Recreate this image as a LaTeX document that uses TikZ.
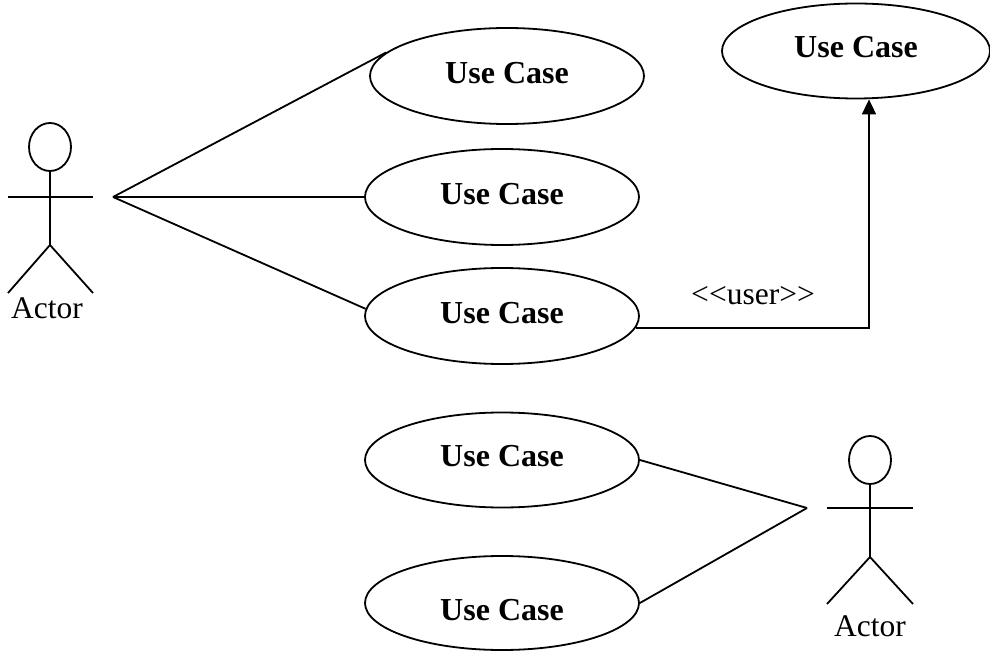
\documentclass[tikz,border=0pt]{standalone}
\usepackage{fontspec}
\setmainfont{Liberation Serif}
\usetikzlibrary{shapes.geometric,arrows.meta}

% Text im Oval, senkrecht verschoben (ohne Boxgroesse zu aendern)
\newcommand{\ucname}[1]{\raisebox{#1}[\height][\depth]{Use Case}}

\tikzset{
  usecase/.style={draw, ellipse, line width=1.8pt, inner sep=0pt,
    minimum width=274pt, minimum height=96pt,
    font=\fontsize{32}{38}\selectfont\bfseries},
  stick/.style={line width=1.8pt},
  assoc/.style={line width=1.8pt},
  actorlabel/.style={font=\fontsize{31.5}{38}\selectfont, inner sep=0pt}
}

\begin{document}
\begin{tikzpicture}[x=1pt,y=-1pt]
\useasboundingbox (0,0) rectangle (990,652);

%ACTOR LINKS
\draw [stick] (50,147) ellipse [x radius=21, y radius=24];
\draw [stick] (50,171) -- (50,245);
\draw [stick] (8,197) -- (93,197);
\draw [stick] (8,293) -- (50,245) -- (93,293);
\node [actorlabel] (actorA) at (47,308) {Actor};
\coordinate (hubA) at (113,197);

%ACTOR RECHTS
\draw [stick] (870,460) ellipse [x radius=21, y radius=24];
\draw [stick] (870,484) -- (870,557);
\draw [stick] (827,508) -- (913,508);
\draw [stick] (827,604) -- (870,557) -- (913,604);
\node [actorlabel] (actorB) at (870,626) {Actor};
\coordinate (hubB) at (807,508);

%USE CASES
\node [usecase] (uc1) at (507,76) {\ucname{3pt}};
\node [usecase] (uc2) at (502,197) {\ucname{2.5pt}};
\node [usecase] (uc3) at (502,316) {\ucname{3pt}};
\node [usecase, minimum width=268pt, minimum height=95pt] (uc4) at (856,51) {\ucname{4pt}};
\node [usecase, minimum height=95pt] (uc5) at (502,460) {\ucname{4pt}};
\node [usecase, minimum height=94pt] (uc6) at (502,603) {\ucname{-7pt}};

%VERBINDUNGEN
\draw [assoc] (hubA) -- (uc1.169);
\draw [assoc] (hubA) -- (uc2.west);
\draw [assoc] (hubA) -- (uc3.177);
\draw [assoc] (uc5.east) -- (hubB);
\draw [assoc] (uc6.east) -- (hubB);

%USER-PFEIL
\coordinate (bend) at (869,327);
\draw [assoc, -{Triangle[length=15pt,width=14pt]}] (uc3.-5) -- (uc3.-5 -| bend) -- (bend |- uc4.south);
\node [actorlabel, anchor=base] (userlbl) at (753,305) {{<}{<}user{>}{>}};

\end{tikzpicture}
\end{document}
